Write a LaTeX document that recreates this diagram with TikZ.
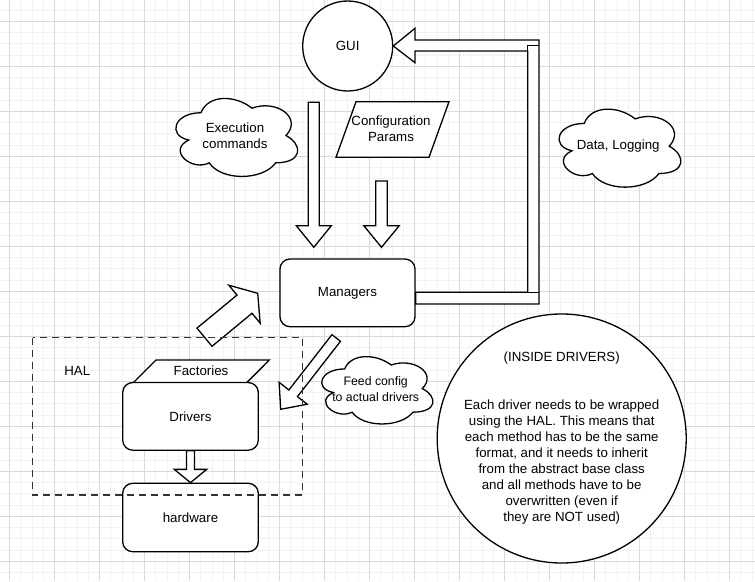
\documentclass[tikz,border=0pt]{standalone}
\usepackage{fontspec}
\setmainfont{Liberation Sans}
\usetikzlibrary{calc}
\tikzset{
  gridminor/.style={draw=black!5, line width=0.8pt},
  gridmajor/.style={draw=black!15, line width=0.9pt},
  shp/.style={draw=black, line width=1.3pt, fill=white},
  txt/.style={inner sep=0pt, align=center, font=\fontsize{13.3}{16}\selectfont},
  rbox/.style={shp, txt, rounded corners=10pt, minimum width=135.6pt, minimum height=67.6pt},
  blk/.style={draw=black, line width=1.3pt, fill=white, line join=miter},
  seam/.style={draw=black, line width=1.3pt},
  halbox/.style={draw=black!80, line width=1.3pt, dash pattern=on 7pt off 5pt},
}
\newcommand\blkarrow[5]{%
  \coordinate (hb) at ($(#2)!#5!(#1)$);
  \draw[blk] ($(#1)!#3!90:(#2)$) -- ($(hb)!#3!90:(#2)$) -- ($(hb)!#4!90:(#2)$) -- (#2)
    -- ($(hb)!#4!-90:(#2)$) -- ($(hb)!#3!-90:(#2)$) -- ($(#1)!#3!-90:(#2)$) -- cycle;
}
\newcommand\cloudnode[7]{%
  \begin{scope}[shift={({#2-#4/2},{#3-#5/2})}, x=#4pt, y=-#5pt]
    \draw[shp] (0.25,0.25) .. controls (0.05,0.25) and (0,0.5) .. (0.16,0.55)
      .. controls (0,0.66) and (0.18,0.9) .. (0.31,0.8)
      .. controls (0.4,1) and (0.7,1) .. (0.8,0.8)
      .. controls (1,0.8) and (1,0.6) .. (0.875,0.5)
      .. controls (1,0.3) and (0.8,0.1) .. (0.625,0.2)
      .. controls (0.5,0.05) and (0.3,0.05) .. (0.25,0.25) -- cycle;
  \end{scope}
  \node[txt, font=\fontsize{#6}{16}\selectfont] (#1) at (#2,#3) {#7};
}
\begin{document}
\begin{tikzpicture}[x=1pt, y=-1pt]
\useasboundingbox (0,0) rectangle (755,581);
\fill[white] (0,0) rectangle (755,581);
% grid
\begin{scope}
\clip (0,0) rectangle (755,581);
\foreach \i in {0,...,67} \draw[gridminor] ({-1.75+11.25*\i},0) -- ++(0,581);
\foreach \j in {0,...,52} \draw[gridminor] (0,{-1.2+11.25*\j}) -- ++(755,0);
\foreach \i in {0,...,16} \draw[gridmajor] ({9.5+45*\i},0) -- ++(0,581);
\foreach \j in {0,...,12} \draw[gridmajor] (0,{21.3+45*\j}) -- ++(755,0);
\end{scope}

% GUI
\node[shp, txt, circle, minimum size=90pt] (gui) at (347.7,46) {GUI};

% clouds
\cloudnode{exec}{235}{135.5}{136}{91}{13.3}{Execution\\commands}
\cloudnode{data}{618.2}{146.2}{136}{91}{13.3}{Data, Logging}
\cloudnode{feed}{375.7}{388.6}{124.2}{78.6}{12.3}{Feed config\\to actual drivers}

% Configuration Params parallelogram
\draw[shp] (356,101.7) -- (449,101.7) -- (429,157.3) -- (336,157.3) -- cycle;
\node[txt] (cfg) at (391,128.7) {Configuration\\Params};

% Managers
\node[rbox, minimum width=135pt, minimum height=67.7pt] (mgr) at (347.5,292.85) {Managers};

% Factories parallelogram + Drivers + hardware
\draw[shp] (156,360) -- (269.3,360) -- (246.7,382.7) -- (133.3,382.7) -- cycle;
\node[txt] (fac) at (201,370.7) {Factories};
\node[rbox] (drv) at (190.5,416.35) {Drivers};
\node[rbox, minimum height=68.4pt] (hw) at (190.5,517.5) {hardware};

% HAL label
\node[txt] (hal) at (77.3,370.7) {HAL};

% INSIDE DRIVERS circle
\node[shp, txt, circle, minimum size=249pt, inner sep=-25pt] (inside) at (561.7,438.5)
  {(INSIDE DRIVERS)\\[32pt]
   Each driver needs to be wrapped\\
   using the HAL. This means that\\
   each method has to be the same\\
   format, and it needs to inherit\\
   from the abstract base class\\
   and all methods have to be\\
   overwritten (even if\\
   they are NOT used)};

% block arrows
\coordinate (a1s) at (313.8,102.3);
\coordinate (a1e) at (313.8,247.3);
\blkarrow{a1s}{a1e}{5.5pt}{17.5pt}{21.6pt}
\coordinate (a2s) at (381.5,181);
\coordinate (a2e) at (381.5,247.3);
\blkarrow{a2s}{a2e}{5.8pt}{17.7pt}{21.6pt}
\coordinate (a3s) at (204.5,337.2);
\coordinate (a3e) at (257.7,293.3);
\blkarrow{a3s}{a3e}{11.8pt}{24.6pt}{17.1pt}
\coordinate (a4s) at (336.2,338);
\coordinate (a4e) at (280.7,409.3);
\blkarrow{a4s}{a4e}{5.4pt}{17.8pt}{20.3pt}
\blkarrow{drv.south}{hw.north}{4pt}{16.2pt}{13.3pt}

% feedback arrow Managers -> GUI
\coordinate (fbt) at (0,292.3);
\coordinate (fbb) at (0,304);
\draw[blk] (mgr.east |- fbt) -- (527.7,292.3) -- (527.7,51) -- (415,51) -- (415,62.7)
  -- (gui.east) -- (415,28.3) -- (415,40) -- (539,40) -- (539,304) -- (mgr.east |- fbb) -- cycle;
\draw[seam] (527.7,51) -- (527.7,45.3) -- (539,45.3);
\draw[seam] (527.7,292.3) -- (539,292.3);

% HAL dashed frame
\draw[halbox] (32.7,337.7) rectangle (302.7,495);
\end{tikzpicture}
\end{document}
